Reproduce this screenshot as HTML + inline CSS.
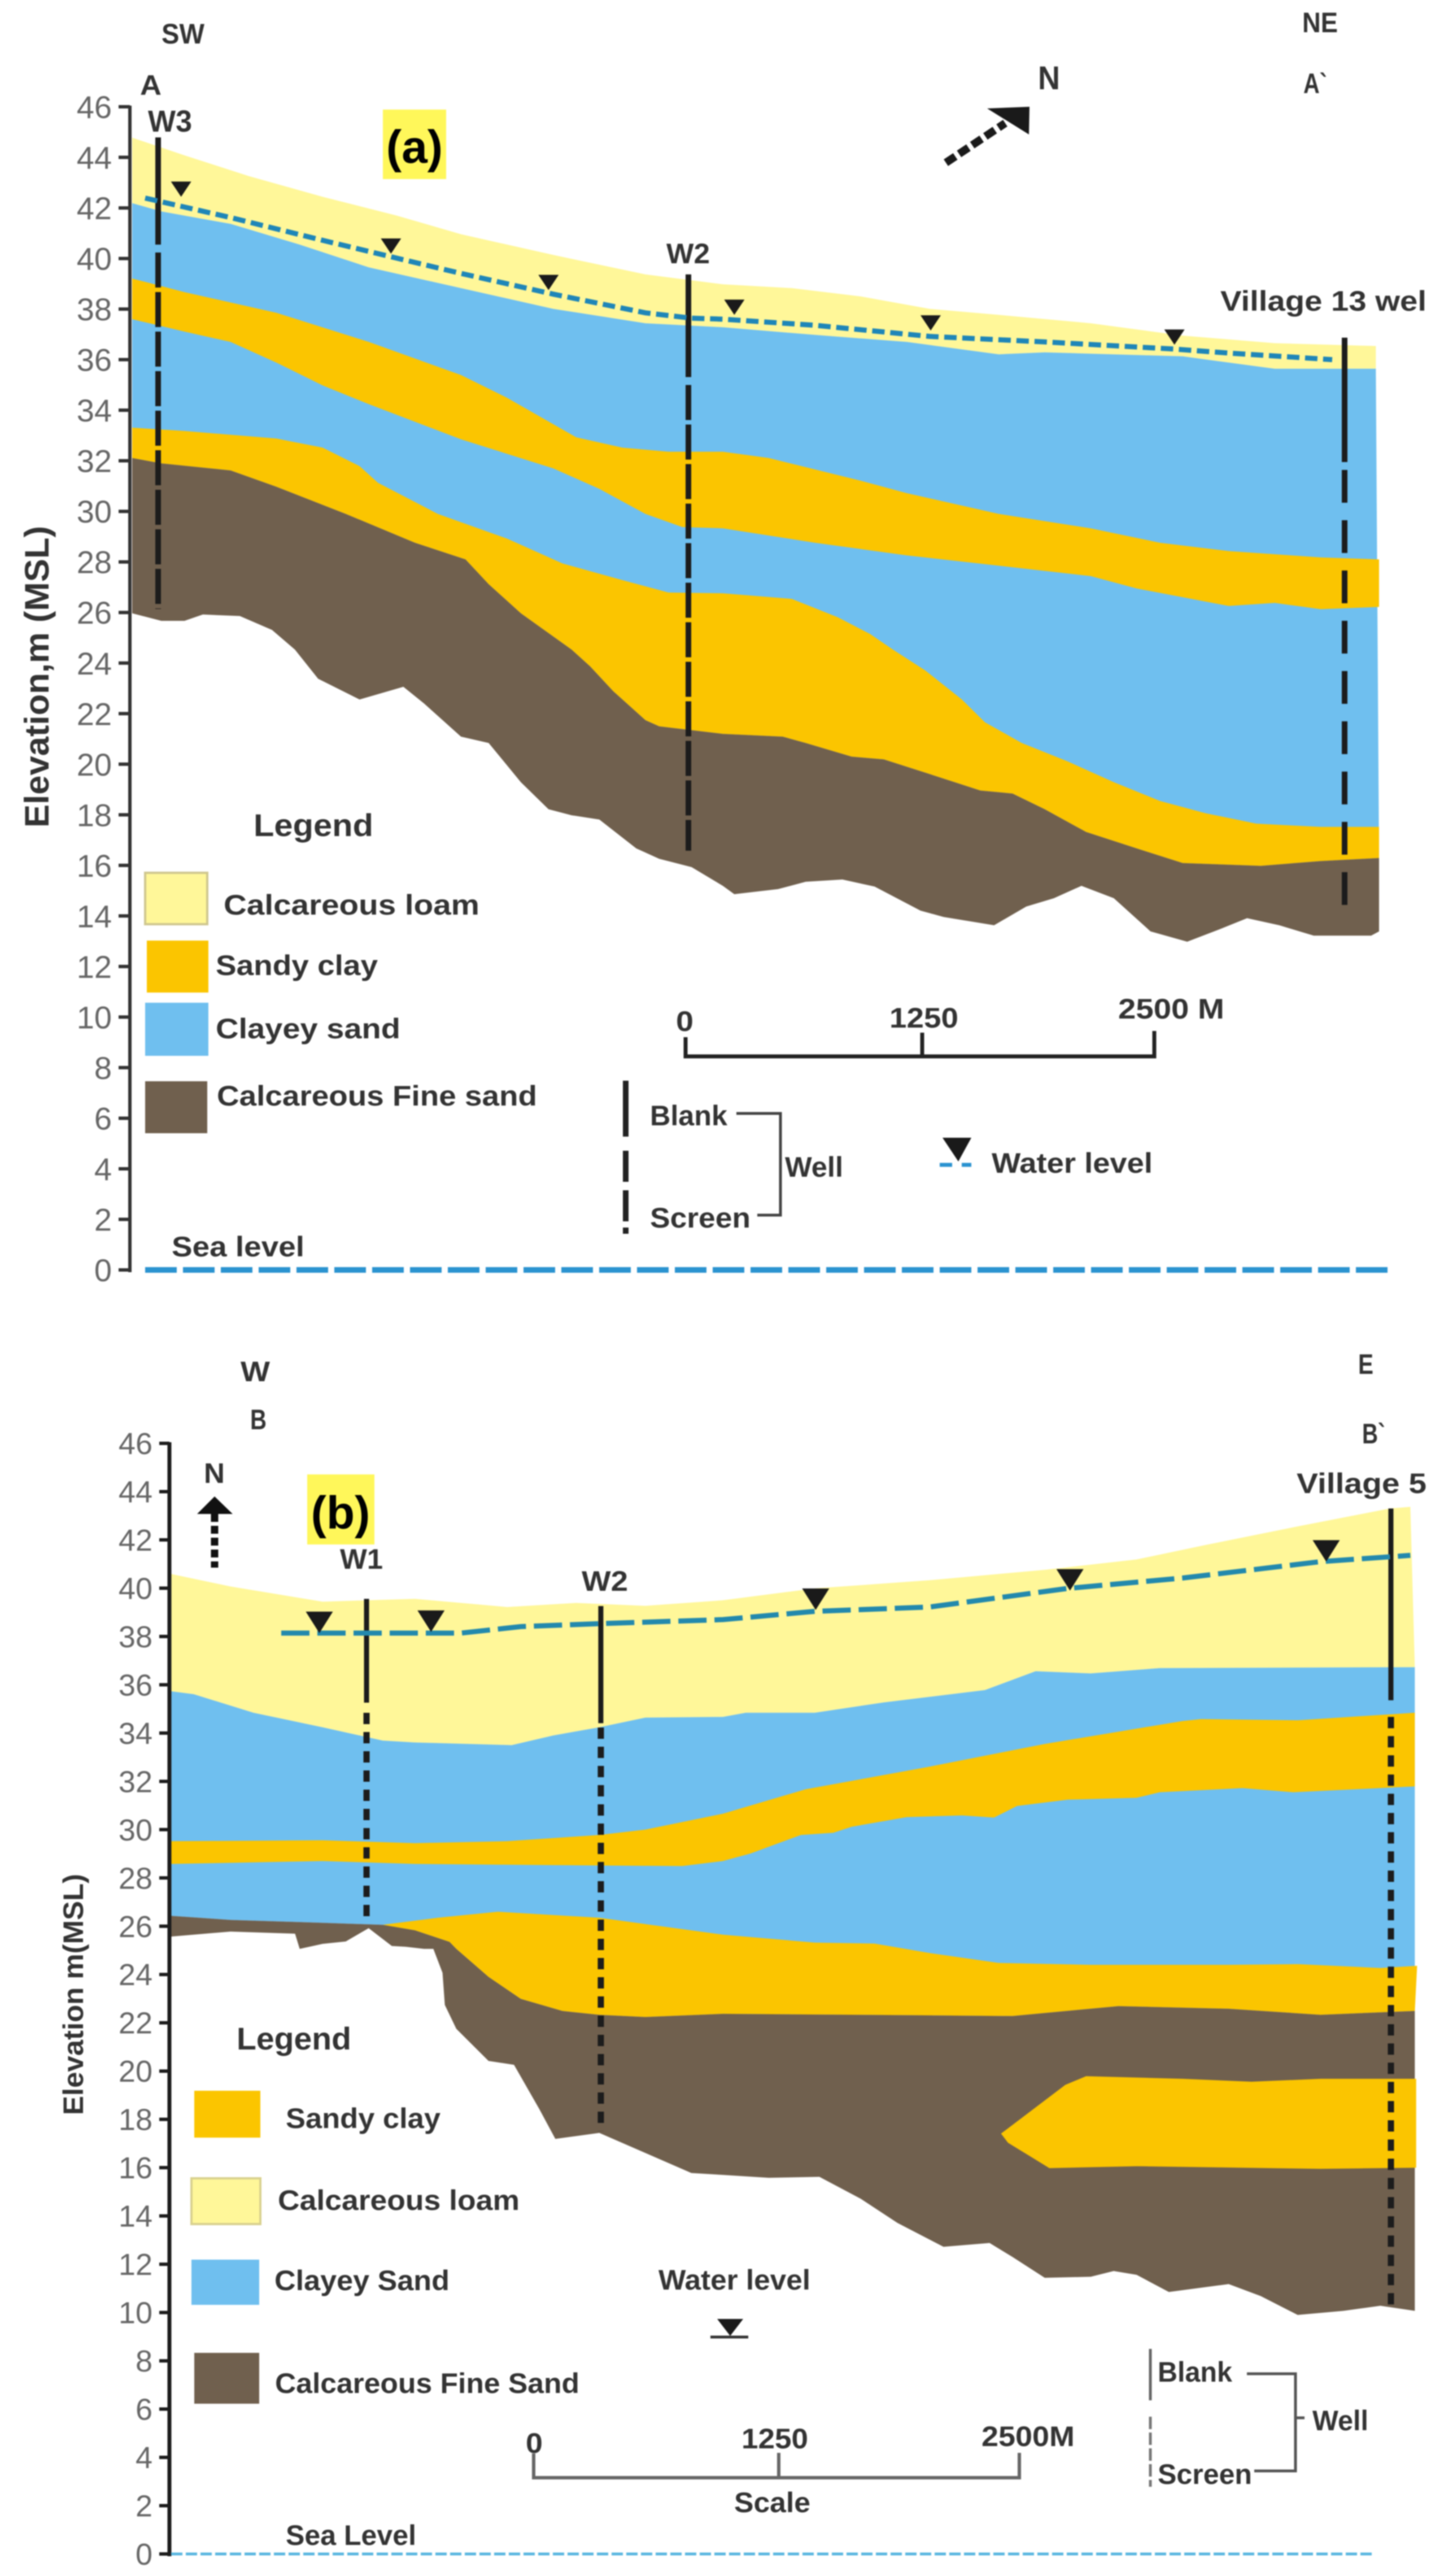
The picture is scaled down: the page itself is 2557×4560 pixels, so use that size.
<!DOCTYPE html>
<html lang="en">
<head>
<meta charset="utf-8">
<title>Hydrogeological cross sections A-A' and B-B'</title>
<style>
html,body{margin:0;padding:0;background:#fff;}
svg{display:block;filter:blur(1px);}
text{font-family:"Liberation Sans",sans-serif;font-weight:700;fill:#333;font-size:50px;}
.tick{font-weight:400;fill:#666;font-size:56px;text-anchor:end;}
.tickb{font-weight:400;fill:#666;font-size:54px;text-anchor:end;}
.mark{fill:#000;font-size:82px;text-anchor:middle;}
</style>
</head>
<body>
<svg id="fig" xmlns="http://www.w3.org/2000/svg" width="2557" height="4560" viewBox="0 0 2557 4560">
<rect x="0" y="0" width="2557" height="4560" fill="#fff"/>
<g id="panelA"></g>
<g id="panelB"></g>

<!-- Panel A static labels -->
<g>
<text transform="translate(86,1465) rotate(-90)" font-size="60" style="font-size:60px" textLength="534" lengthAdjust="spacingAndGlyphs">Elevation,m (MSL)</text>
<text x="286" y="77" textLength="76" lengthAdjust="spacingAndGlyphs">SW</text>
<text x="248" y="168" textLength="38" lengthAdjust="spacingAndGlyphs">A</text>
<text x="262" y="233" style="font-size:54px" textLength="78" lengthAdjust="spacingAndGlyphs">W3</text>
<rect x="678" y="194" width="112" height="123" fill="#fff75a"/>
<text class="mark" x="734" y="288">(a)</text>
<text x="1180" y="466" textLength="77" lengthAdjust="spacingAndGlyphs">W2</text>
<text x="1838" y="158" style="font-size:58px" textLength="39" lengthAdjust="spacingAndGlyphs">N</text>
<polygon points="1748,192 1823,189 1822,238" fill="#1a1a1a"/>
<line x1="1675" y1="288" x2="1780" y2="218" stroke="#1a1a1a" stroke-width="14" stroke-dasharray="20 8"/>
<text x="2306" y="57" textLength="63" lengthAdjust="spacingAndGlyphs">NE</text>
<text x="2308" y="165" textLength="42" lengthAdjust="spacingAndGlyphs">A`</text>
<text x="2161" y="550" textLength="365" lengthAdjust="spacingAndGlyphs">Village 13 wel</text>

<text x="449" y="1480" style="font-size:56px" textLength="212" lengthAdjust="spacingAndGlyphs">Legend</text>
<rect x="257" y="1545" width="110" height="91" fill="#fff799" stroke="#cfc78f" stroke-width="4"/>
<text x="396" y="1619" textLength="453" lengthAdjust="spacingAndGlyphs">Calcareous loam</text>
<rect x="260" y="1665" width="109" height="92" fill="#fbc500"/>
<text x="382" y="1726" textLength="287" lengthAdjust="spacingAndGlyphs">Sandy clay</text>
<rect x="257" y="1775" width="112" height="94" fill="#6fbfef"/>
<text x="382" y="1838" textLength="327" lengthAdjust="spacingAndGlyphs">Clayey sand</text>
<rect x="257" y="1914" width="110" height="92" fill="#70604e"/>
<text x="384" y="1957" textLength="567" lengthAdjust="spacingAndGlyphs">Calcareous Fine sand</text>

<text x="304" y="2224" textLength="235" lengthAdjust="spacingAndGlyphs">Sea level</text>
<line x1="257" y1="2248" x2="2457" y2="2248" stroke="#2b93d0" stroke-width="10" stroke-dasharray="56 11"/>

<g fill="none" stroke="#222" stroke-width="7">
<path d="M1214 1836V1870H2044V1825M1633 1870V1828"/>
</g>
<text x="1197" y="1825" textLength="31" lengthAdjust="spacingAndGlyphs">0</text>
<text x="1575" y="1819" textLength="122" lengthAdjust="spacingAndGlyphs">1250</text>
<text x="1980" y="1803" textLength="188" lengthAdjust="spacingAndGlyphs">2500 M</text>

<g>
<line x1="1108" y1="1913" x2="1108" y2="2012" stroke="#222" stroke-width="10"/>
<line x1="1108" y1="2037" x2="1108" y2="2184" stroke="#222" stroke-width="10" stroke-dasharray="55 15 55 11 11 20"/>
<text x="1151" y="1992" textLength="137" lengthAdjust="spacingAndGlyphs">Blank</text>
<text x="1151" y="2173" textLength="178" lengthAdjust="spacingAndGlyphs">Screen</text>
<path d="M1304 1971H1382V2151H1341" fill="none" stroke="#444" stroke-width="5"/>
<text x="1390" y="2083" textLength="103" lengthAdjust="spacingAndGlyphs">Well</text>
</g>
<g>
<polygon points="1669,2014 1720,2014 1697,2056" fill="#1a1a1a"/>
<line x1="1664" y1="2062" x2="1686" y2="2062" stroke="#2b93d0" stroke-width="7"/>
<line x1="1703" y1="2062" x2="1720" y2="2062" stroke="#2b93d0" stroke-width="7"/>
<text x="1756" y="2076" textLength="285" lengthAdjust="spacingAndGlyphs">Water level</text>
</g>
</g>

<!-- Panel B static labels -->
<g>
<text transform="translate(147,3744) rotate(-90)" style="font-size:50px" textLength="427" lengthAdjust="spacingAndGlyphs">Elevation m(MSL)</text>
<text x="426" y="2445" textLength="52" lengthAdjust="spacingAndGlyphs">W</text>
<text x="443" y="2530" textLength="29" lengthAdjust="spacingAndGlyphs">B</text>
<text x="361" y="2625" textLength="37" lengthAdjust="spacingAndGlyphs">N</text>
<polygon points="380,2649 349,2680 412,2680" fill="#111"/>
<line x1="380" y1="2680" x2="380" y2="2775" stroke="#111" stroke-width="13" stroke-dasharray="14 7"/>
<rect x="544" y="2610" width="119" height="124" fill="#fff75a"/>
<text class="mark" x="603" y="2706">(b)</text>
<text x="602" y="2777" textLength="76" lengthAdjust="spacingAndGlyphs">W1</text>
<text x="1030" y="2816" textLength="82" lengthAdjust="spacingAndGlyphs">W2</text>
<text x="2405" y="2432" textLength="27" lengthAdjust="spacingAndGlyphs">E</text>
<text x="2412" y="2555" textLength="41" lengthAdjust="spacingAndGlyphs">B`</text>
<text x="2296" y="2643" textLength="230" lengthAdjust="spacingAndGlyphs">Village 5</text>

<text x="419" y="3628" style="font-size:56px" textLength="203" lengthAdjust="spacingAndGlyphs">Legend</text>
<rect x="344" y="3701" width="117" height="83" fill="#fbc500"/>
<text x="506" y="3767" textLength="274" lengthAdjust="spacingAndGlyphs">Sandy clay</text>
<rect x="339" y="3856" width="122" height="81" fill="#fff799" stroke="#d9d18f" stroke-width="4"/>
<text x="492" y="3912" textLength="428" lengthAdjust="spacingAndGlyphs">Calcareous loam</text>
<rect x="339" y="4000" width="120" height="80" fill="#6fbfef"/>
<text x="486" y="4054" textLength="310" lengthAdjust="spacingAndGlyphs">Clayey Sand</text>
<rect x="344" y="4165" width="115" height="90" fill="#70604e"/>
<text x="487" y="4236" textLength="539" lengthAdjust="spacingAndGlyphs">Calcareous Fine Sand</text>

<text x="506" y="4505" textLength="231" lengthAdjust="spacingAndGlyphs">Sea Level</text>
<line x1="303" y1="4521" x2="2430" y2="4521" stroke="#5ab6e0" stroke-width="5" stroke-dasharray="20 6"/>

<text x="1166" y="4053" textLength="269" lengthAdjust="spacingAndGlyphs">Water level</text>
<polygon points="1270,4105 1316,4105 1293,4135" fill="#1a1a1a"/>
<line x1="1258" y1="4137" x2="1325" y2="4137" stroke="#333" stroke-width="5"/>

<path d="M945 4343V4386H1805V4342M1379 4386V4342" fill="none" stroke="#666" stroke-width="6"/>
<text x="931" y="4342" textLength="30" lengthAdjust="spacingAndGlyphs">0</text>
<text x="1313" y="4334" textLength="118" lengthAdjust="spacingAndGlyphs">1250</text>
<text x="1738" y="4330" textLength="165" lengthAdjust="spacingAndGlyphs">2500M</text>
<text x="1300" y="4447" textLength="135" lengthAdjust="spacingAndGlyphs">Scale</text>

<g>
<line x1="2037" y1="4158" x2="2037" y2="4249" stroke="#666" stroke-width="5"/>
<line x1="2037" y1="4278" x2="2037" y2="4402" stroke="#777" stroke-width="5" stroke-dasharray="22 6"/>
<text x="2050" y="4216" textLength="132" lengthAdjust="spacingAndGlyphs">Blank</text>
<text x="2050" y="4397" textLength="167" lengthAdjust="spacingAndGlyphs">Screen</text>
<path d="M2208 4202H2294V4374H2221M2294 4280H2310" fill="none" stroke="#555" stroke-width="5"/>
<text x="2324" y="4302" textLength="99" lengthAdjust="spacingAndGlyphs">Well</text>
</g>
</g>
</svg>

<script>
// ---------- Shared axis values ----------
const elevationTicks = [0,2,4,6,8,10,12,14,16,18,20,22,24,26,28,30,32,34,36,38,40,42,44,46];

// ---------- Panel A: distance along section (m) and elevation (m MSL) ----------
const aLoamTopDist = [0,278,620,1012,1404,1747,2237,2727,3138,3504,3871,4237,4604,5092,5581,6070,6607];
const aLoamTopElev = [44.78,44.08,43.26,42.44,41.70,40.96,40.14,39.37,38.98,38.83,38.50,38.01,37.77,37.44,36.95,36.65,36.54];
const aLoamBaseDist = [0,155,523,890,1257,1747,2237,2727,3138,3627,4115,4604,4848,5581,6070,6607];
const aLoamBaseElev = [42.19,41.86,41.37,40.55,39.65,38.83,38.01,37.44,37.28,36.98,36.70,36.21,36.29,36.13,35.64,35.64];
const aUpperClayTopDist = [0,278,767,1257,1747,1992,2359,2604,2849,3138,3382,3871,4115,4604,5092,5459,5825,6314,6624];
const aUpperClayTopElev = [39.21,38.67,37.85,36.70,35.39,34.49,32.93,32.52,32.36,32.36,32.11,31.21,30.72,29.90,29.33,28.76,28.43,28.18,28.10];
const aUpperClayBaseDist = [0,278,523,767,1012,1257,1747,2237,2482,2727,2923,3138,3627,4115,4604,5092,5337,5825,6070,6314,6624];
const aUpperClayBaseElev = [37.60,37.11,36.70,35.88,34.98,34.24,32.85,31.70,30.89,29.90,29.38,29.33,28.76,28.26,27.85,27.44,26.95,26.26,26.38,26.13,26.22];
const aLowerClayTopDist = [0,278,767,1012,1208,1306,1624,1992,2286,2604,2849,3138,3504,3749,3920,4042,4213,4408,4530,4726,4970,5215,5459,5703,5972,6314,6624];
const aLowerClayTopElev = [33.31,33.18,32.88,32.52,31.79,31.13,29.90,28.92,27.94,27.28,26.79,26.76,26.54,25.81,25.15,24.53,23.71,22.56,21.66,20.84,20.11,19.29,18.55,18.06,17.65,17.52,17.52];
const aFineSandTopDist = [0,155,523,767,1135,1502,1771,1894,2065,2335,2433,2555,2727,2800,3138,3456,3578,3822,3993,4237,4506,4677,4848,5068,5337,5581,5996,6314,6624];
const aFineSandTopElev = [32.11,31.90,31.62,30.97,29.90,28.76,28.10,27.12,25.97,24.53,23.87,22.89,21.74,21.50,21.20,21.09,20.84,20.30,20.19,19.61,18.96,18.84,18.22,17.32,16.67,16.09,15.98,16.17,16.29];
const aFineSandBaseDist = [0,155,278,376,572,743,865,988,1208,1441,1551,1747,1894,2065,2212,2335,2482,2678,2800,2972,3138,3199,3431,3578,3773,3944,4188,4311,4579,4750,4897,5043,5215,5410,5605,5776,5923,6094,6277,6582,6624];
const aFineSandBaseElev = [25.97,25.67,25.67,25.92,25.86,25.31,24.53,23.38,22.56,23.06,22.40,21.09,20.84,19.29,18.22,17.98,17.81,16.67,16.26,15.93,15.19,14.86,15.06,15.35,15.44,15.16,14.21,13.96,13.63,14.37,14.70,15.19,14.70,13.39,12.98,13.47,13.91,13.63,13.22,13.22,13.39];
const aWaterDist = [69,523,1012,1380,1747,2237,2727,2971,3138,3627,4237,4848,5532,5825,6375];
const aWaterElev = [42.39,41.62,40.72,40.06,39.41,38.59,37.85,37.64,37.60,37.36,36.92,36.70,36.42,36.26,36.00];
const aMarkerDist = [260,1375,2212,3199,4242,5537];
const aMarkerElev = [42.44,40.19,38.75,37.77,37.15,36.59];
const aWellNames = ['w3','w2','village-13'];
const aWellDist = [138,2955,6441];
const aWellTop = [44.79,39.37,36.87];
const aWellBlankBase = [40.55,35.31,31.95];
const aWellBase = [26.14,16.58,14.37];

// ---------- Panel B ----------
const bLoamTopDist = [0,306,780,1255,1729,2085,2441,2840,3313,3905,4497,4970,5325,5799,6272,6379];
const bLoamTopElev = [40.59,40.07,39.44,39.56,39.22,39.39,39.27,39.50,39.99,40.33,40.76,41.19,41.79,42.56,43.30,43.37];
const bLoamBaseDist = [0,116,424,780,1089,1255,1753,1967,2204,2441,2840,2958,3313,3668,4189,4450,4734,5089,6402];
const bLoamBaseElev = [35.73,35.61,34.84,34.24,33.69,33.61,33.50,33.90,34.24,34.64,34.67,34.84,34.84,35.27,35.78,36.56,36.47,36.69,36.73];
const bUpperClayTopDist = [0,780,1255,1729,2204,2441,2840,3266,3905,4497,5207,5302,5799,6402];
const bUpperClayTopElev = [29.52,29.56,29.44,29.52,29.78,30.00,30.66,31.67,32.61,33.55,34.50,34.58,34.53,34.84];
const bUpperClayBaseDist = [0,780,1255,1967,2631,2840,2982,3242,3408,3503,3787,4071,4236,4355,4615,4970,5089,5515,5775,6402];
const bUpperClayBaseElev = [28.58,28.70,28.58,28.53,28.49,28.70,29.01,29.78,29.87,30.12,30.52,30.59,30.50,30.98,31.24,31.32,31.55,31.72,31.55,31.79];
const bMidClayTopDist = [1089,1373,1682,2204,2840,3313,3621,3905,4260,4734,5444,5799,6225,6414];
const bMidClayTopElev = [26.06,26.35,26.60,26.35,25.65,25.32,25.28,24.89,24.48,24.40,24.40,24.43,24.27,24.36];
const bFineSandTopDist = [0,306,780,1089,1255,1433,1468,1634,1800,2014,2204,2441,2840,3550,4331,4876,5444,5917,6402];
const bFineSandTopElev = [26.43,26.26,26.14,26.06,25.83,25.35,25.06,23.90,22.99,22.49,22.33,22.24,22.37,22.33,22.28,22.69,22.58,22.33,22.49];
const bFineSandBaseDist = [0,306,638,662,780,899,1017,1136,1207,1302,1350,1397,1409,1468,1634,1765,1895,1978,2204,2441,2678,2840,3077,3337,3550,3739,3976,4213,4331,4497,4734,4852,4970,5136,5444,5609,5799,6035,6225,6402];
const bFineSandBaseElev = [25.57,25.78,25.69,25.06,25.27,25.37,25.92,25.18,25.15,25.06,25.06,24.07,22.74,21.75,20.42,20.26,18.43,17.19,17.44,16.61,15.78,15.70,15.58,15.62,14.71,13.71,12.72,12.88,12.30,11.44,11.48,11.72,11.56,10.85,11.18,10.68,9.90,10.07,10.28,10.07];
const bLensDist = [4272,4603,4710,5207,5562,5917,6409,6409,5917,4970,4521,4426,4308];
const bLensElev = [17.41,19.43,19.79,19.68,19.56,19.68,19.68,16.00,15.95,16.06,15.98,16.45,17.03];
const bWaterDist = [567,1492,1800,2204,2840,3313,3905,4615,5207,5917,6379];
const bWaterElev = [38.14,38.14,38.41,38.53,38.70,39.04,39.22,39.99,40.42,41.10,41.36];
const bMarkerDist = [763,1338,3318,4627,5946];
const bMarkerElev = [38.14,38.19,39.10,39.90,41.10];
const bWellNames = ['w1','w2','village-5'];
const bWellDist = [1006,2212,6279];
const bWellTop = [39.56,39.26,43.30];
const bWellBlankBase = [35.26,34.41,35.36];
const bWellScreenTop = [34.84,34.23,34.67];
const bWellBase = [26.09,17.52,10.20];

// ---------- Axis functions ----------
function axA(m){ return 234 + m / 3; }
function ayA(e){ return 2248 - 44.76 * e; }
function axB(m){ return 303 + 0.344 * m; }
function ayB(e){ return 4521 - 42.74 * e; }

const NS = 'http://www.w3.org/2000/svg';
const panelA = document.getElementById('panelA');
const panelB = document.getElementById('panelB');

function pointList(dist, elev, fx, fy){
  return dist.map(function(d, i){ return fx(d).toFixed(1) + ',' + fy(elev[i]).toFixed(1); });
}

function drawBand(parent, name, topD, topE, botD, botE, colour, fx, fy){
  const el = document.createElementNS(NS, 'polygon');
  
  
  const pts = pointList(topD, topE, fx, fy).concat(pointList(botD, botE, fx, fy).reverse());
  el.setAttribute('points', pts.join(' '));
  el.setAttribute('fill', colour);
  parent.appendChild(el);
}

function drawWater(parent, name, dist, elev, colour, dash, fx, fy){
  const el = document.createElementNS(NS, 'polyline');
  
  
  el.setAttribute('points', pointList(dist, elev, fx, fy).join(' '));
  el.setAttribute('fill', 'none');
  el.setAttribute('stroke', colour);
  el.setAttribute('stroke-width', '9');
  el.setAttribute('stroke-dasharray', dash);
  parent.appendChild(el);
}

function drawMarkers(parent, dist, elev, halfW, h, fx, fy){
  dist.forEach(function(d, i){
    const x = fx(d), y = fy(elev[i]);
    const el = document.createElementNS(NS, 'polygon');
    
    
    el.setAttribute('points', (x - halfW) + ',' + (y - h) + ' ' + (x + halfW) + ',' + (y - h) + ' ' + x + ',' + y);
    el.setAttribute('fill', '#1a1a1a');
    parent.appendChild(el);
  });
}

function drawSegment(parent, name, x, y1, y2, width, dash, colour){
  const el = document.createElementNS(NS, 'line');
  
  
  el.setAttribute('x1', x);
  el.setAttribute('x2', x);
  el.setAttribute('y1', y1);
  el.setAttribute('y2', y2);
  el.setAttribute('stroke', colour);
  el.setAttribute('stroke-width', width);
  if (dash) el.setAttribute('stroke-dasharray', dash);
  parent.appendChild(el);
}

function drawAxis(parent, axisName, axisX, fy, tickLen, tickClass, labelX, labelOffset, stroke, width){
  const axis = document.createElementNS(NS, 'line');
  
  
  axis.setAttribute('x1', axisX);
  axis.setAttribute('x2', axisX);
  axis.setAttribute('y1', fy(elevationTicks[elevationTicks.length - 1]) - 2);
  axis.setAttribute('y2', fy(elevationTicks[0]) + 4);
  axis.setAttribute('stroke', stroke);
  axis.setAttribute('stroke-width', width);
  parent.appendChild(axis);
  elevationTicks.forEach(function(t){
    const tick = document.createElementNS(NS, 'line');
    
    
    tick.setAttribute('x1', axisX - tickLen);
    tick.setAttribute('x2', axisX);
    tick.setAttribute('y1', fy(t));
    tick.setAttribute('y2', fy(t));
    tick.setAttribute('stroke', stroke);
    tick.setAttribute('stroke-width', '6');
    parent.appendChild(tick);
    const label = document.createElementNS(NS, 'text');
    
    
    label.setAttribute('class', tickClass);
    label.setAttribute('x', labelX);
    label.setAttribute('y', fy(t) + labelOffset);
    label.textContent = String(t);
    parent.appendChild(label);
  });
}

const LOAM = '#fff799', CLAY = '#fbc500', BLUE = '#6fbfef', BROWN = '#70604e';

// ---------- Panel A marks ----------
drawBand(panelA, 'layer-calcareous-loam-a', aLoamTopDist, aLoamTopElev, aLoamBaseDist, aLoamBaseElev, LOAM, axA, ayA);
drawBand(panelA, 'layer-clayey-sand-a', aLoamBaseDist, aLoamBaseElev, aFineSandTopDist, aFineSandTopElev, BLUE, axA, ayA);
drawBand(panelA, 'layer-upper-sandy-clay-a', aUpperClayTopDist, aUpperClayTopElev, aUpperClayBaseDist, aUpperClayBaseElev, CLAY, axA, ayA);
drawBand(panelA, 'layer-lower-sandy-clay-a', aLowerClayTopDist, aLowerClayTopElev, aFineSandTopDist, aFineSandTopElev, CLAY, axA, ayA);
drawBand(panelA, 'layer-calcareous-fine-sand-a', aFineSandTopDist, aFineSandTopElev, aFineSandBaseDist, aFineSandBaseElev, BROWN, axA, ayA);
drawAxis(panelA, 'y-axis-a', 230, ayA, 20, 'tick', 198, 20, '#333', 6);
aWellNames.forEach(function(name, i){
  const x = axA(aWellDist[i]);
  const dash = i === 2 ? '58 31' : '62 8';
  drawSegment(panelA, 'well-blank-' + name, x, ayA(aWellTop[i]), ayA(aWellBlankBase[i]), 10, null, '#1c1c1c');
  drawSegment(panelA, 'well-screen-' + name, x, ayA(aWellBlankBase[i]) + 14, ayA(aWellBase[i]), 10, dash, '#1c1c1c');
});
drawWater(panelA, 'water-level-line-a', aWaterDist, aWaterElev, '#1f86b8', '22 10', axA, ayA);
drawMarkers(panelA, aMarkerDist, aMarkerElev, 18, 27, axA, ayA);

// ---------- Panel B marks ----------
const bClayBaseDist = bFineSandTopDist.slice(3);
const bClayBaseElev = bFineSandTopElev.slice(3);
drawBand(panelB, 'layer-calcareous-loam-b', bLoamTopDist, bLoamTopElev, bLoamBaseDist, bLoamBaseElev, LOAM, axB, ayB);
drawBand(panelB, 'layer-clayey-sand-b', bLoamBaseDist, bLoamBaseElev, bFineSandTopDist, bFineSandTopElev, BLUE, axB, ayB);
drawBand(panelB, 'layer-upper-sandy-clay-b', bUpperClayTopDist, bUpperClayTopElev, bUpperClayBaseDist, bUpperClayBaseElev, CLAY, axB, ayB);
drawBand(panelB, 'layer-middle-sandy-clay-b', bMidClayTopDist, bMidClayTopElev, bClayBaseDist, bClayBaseElev, CLAY, axB, ayB);
drawBand(panelB, 'layer-calcareous-fine-sand-b', bFineSandTopDist, bFineSandTopElev, bFineSandBaseDist, bFineSandBaseElev, BROWN, axB, ayB);

const lens = document.createElementNS(NS, 'polygon');


lens.setAttribute('points', pointList(bLensDist, bLensElev, axB, ayB).join(' '));
lens.setAttribute('fill', CLAY);
panelB.appendChild(lens);

drawAxis(panelB, 'y-axis-b', 300, ayB, 18, 'tickb', 270, 19, '#1c1c1c', 7);
bWellNames.forEach(function(name, i){
  const x = axB(bWellDist[i]);
  drawSegment(panelB, 'well-blank-' + name, x, ayB(bWellTop[i]), ayB(bWellBlankBase[i]), 9, null, '#1c1c1c');
  drawSegment(panelB, 'well-screen-' + name, x, ayB(bWellScreenTop[i]), ayB(bWellBase[i]), 11, '20 14', '#1c1c1c');
});
drawWater(panelB, 'water-level-line-b', bWaterDist, bWaterElev, '#2389ad', '50 14', axB, ayB);
drawMarkers(panelB, bMarkerDist, bMarkerElev, 24, 38, axB, ayB);
</script>
</body>
</html>
